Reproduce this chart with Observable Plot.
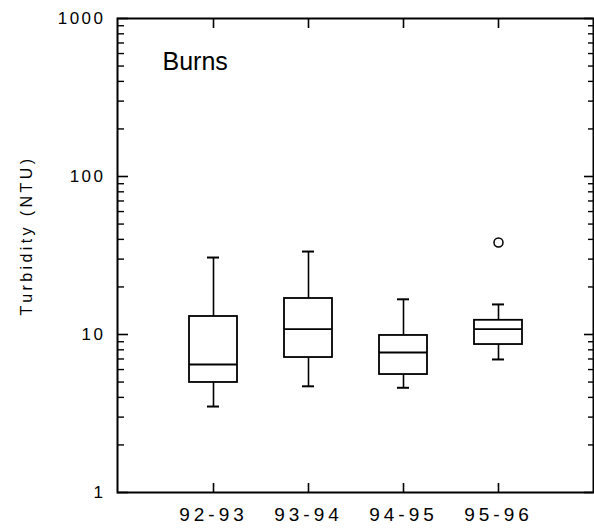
<!DOCTYPE html>
<html><head><meta charset="utf-8">
<script src="https://cdn.jsdelivr.net/npm/d3@7"></script>
<script src="https://cdn.jsdelivr.net/npm/@observablehq/plot@0.6"></script>
<style>
body{margin:0;background:#fff}
#chart svg [aria-label="y-axis tick label"]{font-size:17px !important}
#chart svg [aria-label="y-axis tick label"] text{letter-spacing:2.5px}
#chart svg [aria-label="x-axis tick label"]{font-size:19px !important}
#chart svg [aria-label="x-axis tick label"] text{letter-spacing:4px}
</style>
</head><body><div id="chart"></div><script>
// ---- data ----
const categories   = ["92-93", "93-94", "94-95", "95-96"];
const lowWhisker   = [3.5, 4.7, 4.6, 6.95];
const q1           = [4.97, 7.15, 5.58, 8.64];
const median       = [6.46, 10.8, 7.69, 10.8];
const q3           = [13.0, 16.9, 9.86, 12.3];
const highWhisker  = [30.7, 33.5, 16.7, 15.5];
const outlierCategory = ["95-96"];
const outlierValue    = [38.2];
const majorTicks = [1, 10, 100, 1000];
const majorLabels = ["1", "10", "100", "1000"];
const minorTicks = [1, 10, 100].flatMap(d => [2,3,4,5,6,7,8,9].map(m => m * d));
const panelTitle = "Burns";
const yTitle = "Turbidity (NTU)";

// ---- build table ----
const rows = categories.map((c, i) => ({
  category: c, low: lowWhisker[i], q1: q1[i], median: median[i], q3: q3[i], high: highWhisker[i]
}));
const outliers = outlierCategory.map((c, i) => ({category: c, value: outlierValue[i]}));

const W = 594, H = 531, mL = 117, mR = 1, mT = 18, mB = 39;
const pw = W - mL - mR, ph = H - mT - mB;
const font = "'Liberation Sans', Arial, Helvetica, sans-serif";

const chart = Plot.plot({
  width: W, height: H,
  marginLeft: mL, marginRight: mR, marginTop: mT, marginBottom: mB,
  style: {fontFamily: font, color: "#000", background: "#fff", overflow: "visible"},
  x: {type: "band", domain: categories, paddingInner: 0.496, paddingOuter: 0.748},
  y: {type: "log", domain: [1, 1000]},
  marks: [
    Plot.axisY({ticks: majorTicks, tickFormat: (d) => majorLabels[majorTicks.indexOf(d)], tickSize: 0, tickPadding: 12, label: null}),
    Plot.axisX({tickSize: 0, tickPadding: 15, label: null}),
    // y title
    Plot.text([yTitle], {text: d => d, frameAnchor: "left", dx: -91, dy: -20, rotate: -90,
      textAnchor: "middle", lineAnchor: "middle", fontSize: 16, fill: "black"}),
    // inner tick marks: left
    Plot.ruleY(majorTicks, {y: d => d, insetRight: pw - 11, strokeWidth: 1.6}),
    Plot.ruleY(minorTicks, {y: d => d, insetRight: pw - 7, strokeWidth: 1.4}),
    // right
    Plot.ruleY(majorTicks, {y: d => d, insetLeft: pw - 9, strokeWidth: 1.6}),
    Plot.ruleY(minorTicks, {y: d => d, insetLeft: pw - 5, strokeWidth: 1.4}),
    // bottom and top ticks
    Plot.ruleX(categories, {x: d => d, insetTop: ph - 9, strokeWidth: 1.6}),
    Plot.ruleX(categories, {x: d => d, insetBottom: ph - 10, strokeWidth: 1.6}),
    // whiskers
    Plot.ruleX(rows, {x: "category", y1: "q3", y2: "high", strokeWidth: 1.6}),
    Plot.ruleX(rows, {x: "category", y1: "low", y2: "q1", strokeWidth: 1.6}),
    Plot.tickY(rows, {x: "category", y: "high", insetLeft: 18, insetRight: 18, strokeWidth: 2}),
    Plot.tickY(rows, {x: "category", y: "low", insetLeft: 18, insetRight: 18, strokeWidth: 2}),
    // boxes
    Plot.barY(rows, {x: "category", y1: "q1", y2: "q3", fill: "white", stroke: "black", strokeWidth: 1.8}),
    Plot.tickY(rows, {x: "category", y: "median", strokeWidth: 1.8}),
    // outliers
    Plot.dot(outliers, {x: "category", y: "value", r: 4.5, stroke: "black", fill: "white", strokeWidth: 1.5}),
    // panel title
    Plot.text([panelTitle], {text: d => d, frameAnchor: "top-left", dx: 45, dy: 34, lineAnchor: "top",
      textAnchor: "start", fontSize: 25, fill: "black"}),
    Plot.frame({stroke: "black", strokeWidth: 2})
  ]
});
document.getElementById("chart").appendChild(chart);
const titleEl = Array.from(chart.querySelectorAll("text")).find(e => e.textContent.trim() === yTitle);
if (titleEl) { titleEl.style.letterSpacing = "3.4px"; }
</script></body></html>
